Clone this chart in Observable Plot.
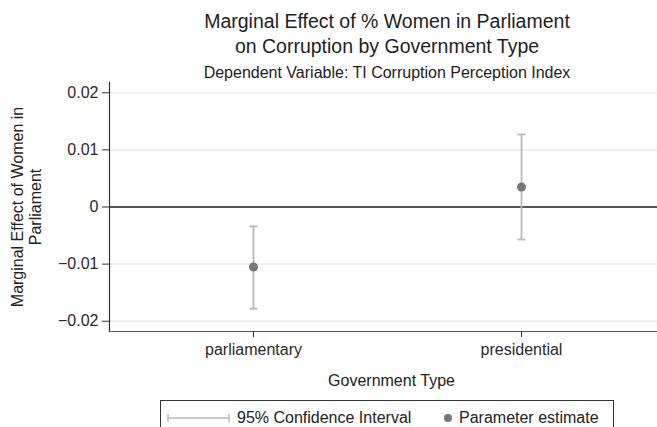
<!DOCTYPE html>
<html>
<head>
<meta charset="utf-8">
<script src="https://cdn.jsdelivr.net/npm/d3@7"></script>
<script src="https://cdn.jsdelivr.net/npm/@observablehq/plot@0.6"></script>
<style>
  body { margin: 0; background: #fff; }
  #wrap { position: relative; width: 657px; height: 427px; overflow: hidden;
          font-family: "Liberation Sans", Arial, Helvetica, sans-serif; color: #222; }
  #header { height: 82px; box-sizing: border-box; padding-left: 117px; padding-top: 9px; text-align: center; }
  #title { font-size: 19.5px; line-height: 25px; color: #1e1e1e; }
  #subtitle { font-size: 16px; line-height: 18px; margin-top: 5px; color: #222; }
  #legend { position: absolute; left: 160px; top: 400px; width: 454px; height: 40px;
            border: 1px solid #333; box-sizing: border-box; font-size: 16px; color: #222; }
  #legend .item { position: absolute; top: 8px; line-height: 18px; white-space: nowrap; }
</style>
</head>
<body>
<div id="wrap">
  <div id="header">
    <div id="title">Marginal Effect of % Women in Parliament<br>on Corruption by Government Type</div>
    <div id="subtitle">Dependent Variable: TI Corruption Perception Index</div>
  </div>
  <div id="chart"></div>
  <div id="legend">
    <svg style="position:absolute;left:6px;top:12px" width="64" height="10">
      <line x1="1" y1="5" x2="62" y2="5" stroke="#b8b8b8" stroke-width="1.5"/>
      <line x1="1" y1="1" x2="1" y2="9" stroke="#b8b8b8" stroke-width="1.5"/>
      <line x1="62" y1="1" x2="62" y2="9" stroke="#b8b8b8" stroke-width="1.5"/>
    </svg>
    <span class="item" style="left:76px">95% Confidence Interval</span>
    <svg style="position:absolute;left:282px;top:12px" width="10" height="10">
      <circle cx="5" cy="5" r="4" fill="#777"/>
    </svg>
    <span class="item" style="left:298px">Parameter estimate</span>
  </div>
</div>
<script>
const govTypes = ["parliamentary", "presidential"];
const estimates = [-0.0105, 0.0035];
const ciLower = [-0.0178, -0.0057];
const ciUpper = [-0.0034, 0.0127];
const yTicks = [-0.02, -0.01, 0, 0.01, 0.02];
const xTitle = "Government Type";
const yTitle = "Marginal Effect of Women in\nParliament";

const rows = govTypes.map((g, i) => ({type: g, est: estimates[i], lo: ciLower[i], hi: ciUpper[i]}));

const fmt = d => d === 0 ? "0" : d3.format(".2f")(d);

// horizontal cap symbol for error bars
const capSymbol = {draw(ctx) { ctx.moveTo(-4, 0); ctx.lineTo(4, 0); }};

const chart = Plot.plot({
  width: 657,
  height: 318,
  marginTop: 0,
  marginLeft: 109,
  marginRight: -8,
  marginBottom: 69,
  style: {fontFamily: '"Liberation Sans", Arial, Helvetica, sans-serif', fontSize: "16px", color: "#2a2a2a", background: "#fff", overflow: "visible"},
  x: {type: "point", domain: govTypes, padding: 0.535},
  y: {domain: [-0.0218, 0.0218]},
  marks: [
    Plot.gridY(yTicks, {stroke: "#e6e6e6", strokeOpacity: 1, strokeWidth: 1.2}),
    Plot.ruleY([0], {stroke: "#222", strokeWidth: 1.5}),
    Plot.frame({anchor: "left", stroke: "#333", strokeWidth: 1.2}),
    Plot.frame({anchor: "bottom", stroke: "#555", strokeWidth: 1.2}),
    Plot.axisY(yTicks, {tickSize: 7, tickPadding: 4, tickFormat: fmt, fontSize: 16, label: null, stroke: "#333"}),
    Plot.axisX({tickSize: 6, tickPadding: 6, fontSize: 16, label: null, stroke: "#333"}),
    Plot.ruleX(rows, {x: "type", y1: "lo", y2: "hi", stroke: "#b8b8b8", strokeWidth: 1.8}),
    Plot.dot(rows, {x: "type", y: "lo", symbol: capSymbol, r: 4, fill: "none", stroke: "#b8b8b8", strokeWidth: 1.8}),
    Plot.dot(rows, {x: "type", y: "hi", symbol: capSymbol, r: 4, fill: "none", stroke: "#b8b8b8", strokeWidth: 1.8}),
    Plot.dot(rows, {x: "type", y: "est", r: 4.5, fill: "#777", stroke: "none"}),
    Plot.text([xTitle], {frameAnchor: "bottom", dx: 4, dy: 49, lineAnchor: "middle", fontSize: 16, fill: "#222"}),
    Plot.text([yTitle], {frameAnchor: "left", dx: -83, rotate: -90, textAnchor: "middle", lineAnchor: "middle", lineHeight: 1.1, fontSize: 16, fill: "#222"})
  ]
});
document.getElementById("chart").appendChild(chart);
</script>
</body>
</html>
